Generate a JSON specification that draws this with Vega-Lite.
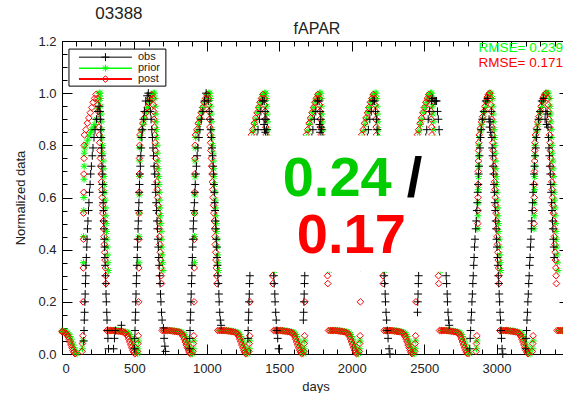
{
"$schema":"https://vega.github.io/schema/vega-lite/v6.json",
"width":507,"height":313,
"autosize":{"type":"none"},
"padding":{"left":62,"top":41,"right":-6,"bottom":39},
"background":"white",
"config":{"view":{"stroke":"#000","strokeWidth":1},"axis":{"labelFont":"Liberation Sans","titleFont":"Liberation Sans","labelFontSize":13,"titleFontSize":13,"titleFontWeight":"normal","labelColor":"#222","titleColor":"#222","domain":false,"tickColor":"#000","tickWidth":1,"grid":false}},
"datasets":{
"post":[
{"d":0,"v":0.086},{"d":4,"v":0.085},{"d":16,"v":0.083},{"d":26,"v":0.08},{"d":34,"v":0.075},{"d":41,"v":0.067},{"d":48,"v":0.057},{"d":55,"v":0.046},{"d":62,"v":0.035},{"d":69,"v":0.024},{"d":76,"v":0.014},{"d":83,"v":0.006},{"d":90,"v":0.001},
{"d":138,"v":0.01},{"d":141,"v":0.04},{"d":144,"v":0.07},{"d":146,"v":0.2},{"d":147,"v":0.33},{"d":148,"v":0.44},{"d":149,"v":0.54},{"d":150,"v":0.62},{"d":151,"v":0.69},{"d":152,"v":0.75},{"d":153,"v":0.8},
{"d":155,"v":0.84},{"d":165,"v":0.86},{"d":175,"v":0.885},{"d":185,"v":0.905},{"d":195,"v":0.925},{"d":205,"v":0.945},{"d":215,"v":0.965},{"d":225,"v":0.98},{"d":235,"v":0.995},
{"d":245,"v":0.98},{"d":247,"v":0.955},{"d":250,"v":0.93},{"d":252,"v":0.9},{"d":255,"v":0.87},{"d":257,"v":0.84},{"d":260,"v":0.81},{"d":262,"v":0.78},{"d":265,"v":0.75},{"d":267,"v":0.72},{"d":270,"v":0.69},{"d":272,"v":0.66},{"d":275,"v":0.63},{"d":277,"v":0.6},{"d":280,"v":0.57},{"d":282,"v":0.54},{"d":285,"v":0.51},{"d":287,"v":0.48},{"d":290,"v":0.45},{"d":292,"v":0.42},{"d":295,"v":0.39},{"d":297,"v":0.36},{"d":300,"v":0.33},{"d":302,"v":0.3},{"d":304,"v":0.27},
{"d":309,"v":0.09},{"d":321,"v":0.09},{"d":333,"v":0.09},{"d":345,"v":0.09},{"d":357,"v":0.09},{"d":369,"v":0.089},{"d":381,"v":0.088},{"d":393,"v":0.087},{"d":405,"v":0.086},{"d":417,"v":0.085},{"d":429,"v":0.083},{"d":439,"v":0.08},
{"d":447,"v":0.075},{"d":454,"v":0.067},{"d":461,"v":0.057},{"d":468,"v":0.046},{"d":475,"v":0.035},{"d":482,"v":0.024},{"d":489,"v":0.014},{"d":496,"v":0.006},{"d":503,"v":0.001},
{"d":521,"v":0.01},{"d":524,"v":0.04},{"d":527,"v":0.07},{"d":529,"v":0.2},{"d":530,"v":0.33},{"d":531,"v":0.44},{"d":532,"v":0.54},{"d":533,"v":0.62},{"d":534,"v":0.69},{"d":535,"v":0.75},{"d":536,"v":0.8},
{"d":538,"v":0.84},{"d":548,"v":0.86},{"d":558,"v":0.885},{"d":568,"v":0.905},{"d":578,"v":0.925},{"d":588,"v":0.945},{"d":598,"v":0.965},{"d":608,"v":0.98},{"d":618,"v":0.995},
{"d":628,"v":0.98},{"d":630,"v":0.955},{"d":633,"v":0.93},{"d":635,"v":0.9},{"d":638,"v":0.87},{"d":640,"v":0.84},{"d":643,"v":0.81},{"d":645,"v":0.78},{"d":648,"v":0.75},{"d":650,"v":0.72},{"d":653,"v":0.69},{"d":655,"v":0.66},{"d":658,"v":0.63},{"d":660,"v":0.6},{"d":663,"v":0.57},{"d":665,"v":0.54},{"d":668,"v":0.51},{"d":670,"v":0.48},{"d":673,"v":0.45},{"d":675,"v":0.42},{"d":678,"v":0.39},{"d":680,"v":0.36},{"d":683,"v":0.33},{"d":685,"v":0.3},{"d":687,"v":0.27},
{"d":692,"v":0.09},{"d":704,"v":0.09},{"d":716,"v":0.09},{"d":728,"v":0.09},{"d":740,"v":0.09},{"d":752,"v":0.089},{"d":764,"v":0.088},{"d":776,"v":0.087},{"d":788,"v":0.086},{"d":800,"v":0.085},{"d":812,"v":0.083},{"d":822,"v":0.08},
{"d":830,"v":0.075},{"d":837,"v":0.067},{"d":844,"v":0.057},{"d":851,"v":0.046},{"d":858,"v":0.035},{"d":865,"v":0.024},{"d":872,"v":0.014},{"d":879,"v":0.006},{"d":886,"v":0.001},
{"d":904,"v":0.01},{"d":907,"v":0.04},{"d":910,"v":0.07},{"d":912,"v":0.2},{"d":913,"v":0.33},{"d":914,"v":0.44},{"d":915,"v":0.54},{"d":916,"v":0.62},{"d":917,"v":0.69},{"d":918,"v":0.75},{"d":919,"v":0.8},
{"d":921,"v":0.84},{"d":931,"v":0.86},{"d":941,"v":0.885},{"d":951,"v":0.905},{"d":961,"v":0.925},{"d":971,"v":0.945},{"d":981,"v":0.965},{"d":991,"v":0.98},{"d":1001,"v":0.995},
{"d":1011,"v":0.98},{"d":1013,"v":0.955},{"d":1016,"v":0.93},{"d":1018,"v":0.9},{"d":1021,"v":0.87},{"d":1023,"v":0.84},{"d":1026,"v":0.81},{"d":1028,"v":0.78},{"d":1031,"v":0.75},{"d":1033,"v":0.72},{"d":1036,"v":0.69},{"d":1038,"v":0.66},{"d":1041,"v":0.63},{"d":1043,"v":0.6},{"d":1046,"v":0.57},{"d":1048,"v":0.54},{"d":1051,"v":0.51},{"d":1053,"v":0.48},{"d":1056,"v":0.45},{"d":1058,"v":0.42},{"d":1061,"v":0.39},{"d":1063,"v":0.36},{"d":1066,"v":0.33},{"d":1068,"v":0.3},{"d":1070,"v":0.27},
{"d":1075,"v":0.09},{"d":1087,"v":0.09},{"d":1099,"v":0.09},{"d":1111,"v":0.09},{"d":1123,"v":0.09},{"d":1135,"v":0.089},{"d":1147,"v":0.088},{"d":1159,"v":0.087},{"d":1171,"v":0.086},{"d":1183,"v":0.085},{"d":1195,"v":0.083},{"d":1205,"v":0.08},
{"d":1213,"v":0.075},{"d":1220,"v":0.067},{"d":1227,"v":0.057},{"d":1234,"v":0.046},{"d":1241,"v":0.035},{"d":1248,"v":0.024},{"d":1255,"v":0.014},{"d":1262,"v":0.006},{"d":1269,"v":0.001},
{"d":1290,"v":0.01},{"d":1293,"v":0.04},{"d":1296,"v":0.07},{"d":1298,"v":0.2},{"d":1299,"v":0.33},{"d":1300,"v":0.44},{"d":1301,"v":0.54},{"d":1302,"v":0.62},{"d":1303,"v":0.69},{"d":1304,"v":0.75},{"d":1305,"v":0.8},
{"d":1307,"v":0.84},{"d":1317,"v":0.86},{"d":1327,"v":0.885},{"d":1337,"v":0.905},{"d":1347,"v":0.925},{"d":1357,"v":0.945},{"d":1367,"v":0.965},{"d":1377,"v":0.98},{"d":1387,"v":0.995},
{"d":1397,"v":0.98},{"d":1399,"v":0.955},{"d":1402,"v":0.93},{"d":1404,"v":0.9},{"d":1407,"v":0.87},{"d":1409,"v":0.84},{"d":1412,"v":0.81},{"d":1414,"v":0.78},{"d":1417,"v":0.75},{"d":1419,"v":0.72},{"d":1422,"v":0.69},{"d":1424,"v":0.66},{"d":1427,"v":0.63},{"d":1429,"v":0.6},{"d":1432,"v":0.57},{"d":1434,"v":0.54},{"d":1437,"v":0.51},{"d":1439,"v":0.48},{"d":1442,"v":0.45},{"d":1444,"v":0.42},{"d":1447,"v":0.39},{"d":1449,"v":0.36},{"d":1452,"v":0.33},{"d":1454,"v":0.3},{"d":1456,"v":0.27},
{"d":1461,"v":0.09},{"d":1473,"v":0.09},{"d":1485,"v":0.09},{"d":1497,"v":0.09},{"d":1509,"v":0.09},{"d":1521,"v":0.089},{"d":1533,"v":0.088},{"d":1545,"v":0.087},{"d":1557,"v":0.086},{"d":1569,"v":0.085},{"d":1581,"v":0.083},{"d":1591,"v":0.08},
{"d":1599,"v":0.075},{"d":1606,"v":0.067},{"d":1613,"v":0.057},{"d":1620,"v":0.046},{"d":1627,"v":0.035},{"d":1634,"v":0.024},{"d":1641,"v":0.014},{"d":1648,"v":0.006},{"d":1655,"v":0.001},
{"d":1669,"v":0.01},{"d":1672,"v":0.04},{"d":1675,"v":0.07},{"d":1677,"v":0.2},{"d":1678,"v":0.33},{"d":1679,"v":0.44},{"d":1680,"v":0.54},{"d":1681,"v":0.62},{"d":1682,"v":0.69},{"d":1683,"v":0.75},{"d":1684,"v":0.8},
{"d":1686,"v":0.84},{"d":1696,"v":0.86},{"d":1706,"v":0.885},{"d":1716,"v":0.905},{"d":1726,"v":0.925},{"d":1736,"v":0.945},{"d":1746,"v":0.965},{"d":1756,"v":0.98},{"d":1766,"v":0.995},
{"d":1776,"v":0.98},{"d":1778,"v":0.955},{"d":1781,"v":0.93},{"d":1783,"v":0.9},{"d":1786,"v":0.87},{"d":1788,"v":0.84},{"d":1791,"v":0.81},{"d":1793,"v":0.78},{"d":1796,"v":0.75},{"d":1798,"v":0.72},{"d":1801,"v":0.69},{"d":1803,"v":0.66},{"d":1806,"v":0.63},{"d":1808,"v":0.6},{"d":1811,"v":0.57},{"d":1813,"v":0.54},{"d":1816,"v":0.51},{"d":1818,"v":0.48},{"d":1821,"v":0.45},{"d":1823,"v":0.42},{"d":1826,"v":0.39},{"d":1828,"v":0.36},{"d":1831,"v":0.33},{"d":1833,"v":0.3},{"d":1835,"v":0.27},
{"d":1840,"v":0.09},{"d":1852,"v":0.09},{"d":1864,"v":0.09},{"d":1876,"v":0.09},{"d":1888,"v":0.09},{"d":1900,"v":0.089},{"d":1912,"v":0.088},{"d":1924,"v":0.087},{"d":1936,"v":0.086},{"d":1948,"v":0.085},{"d":1960,"v":0.083},{"d":1970,"v":0.08},
{"d":1978,"v":0.075},{"d":1985,"v":0.067},{"d":1992,"v":0.057},{"d":1999,"v":0.046},{"d":2006,"v":0.035},{"d":2013,"v":0.024},{"d":2020,"v":0.014},{"d":2027,"v":0.006},{"d":2034,"v":0.001},
{"d":2052,"v":0.01},{"d":2055,"v":0.04},{"d":2058,"v":0.07},{"d":2060,"v":0.2},{"d":2061,"v":0.33},{"d":2062,"v":0.44},{"d":2063,"v":0.54},{"d":2064,"v":0.62},{"d":2065,"v":0.69},{"d":2066,"v":0.75},{"d":2067,"v":0.8},
{"d":2069,"v":0.84},{"d":2079,"v":0.86},{"d":2089,"v":0.885},{"d":2099,"v":0.905},{"d":2109,"v":0.925},{"d":2119,"v":0.945},{"d":2129,"v":0.965},{"d":2139,"v":0.98},{"d":2149,"v":0.995},
{"d":2159,"v":0.98},{"d":2161,"v":0.955},{"d":2164,"v":0.93},{"d":2166,"v":0.9},{"d":2169,"v":0.87},{"d":2171,"v":0.84},{"d":2174,"v":0.81},{"d":2176,"v":0.78},{"d":2179,"v":0.75},{"d":2181,"v":0.72},{"d":2184,"v":0.69},{"d":2186,"v":0.66},{"d":2189,"v":0.63},{"d":2191,"v":0.6},{"d":2194,"v":0.57},{"d":2196,"v":0.54},{"d":2199,"v":0.51},{"d":2201,"v":0.48},{"d":2204,"v":0.45},{"d":2206,"v":0.42},{"d":2209,"v":0.39},{"d":2211,"v":0.36},{"d":2214,"v":0.33},{"d":2216,"v":0.3},{"d":2218,"v":0.27},
{"d":2223,"v":0.09},{"d":2235,"v":0.09},{"d":2247,"v":0.09},{"d":2259,"v":0.09},{"d":2271,"v":0.09},{"d":2283,"v":0.089},{"d":2295,"v":0.088},{"d":2307,"v":0.087},{"d":2319,"v":0.086},{"d":2331,"v":0.085},{"d":2343,"v":0.083},{"d":2353,"v":0.08},
{"d":2361,"v":0.075},{"d":2368,"v":0.067},{"d":2375,"v":0.057},{"d":2382,"v":0.046},{"d":2389,"v":0.035},{"d":2396,"v":0.024},{"d":2403,"v":0.014},{"d":2410,"v":0.006},{"d":2417,"v":0.001},
{"d":2435,"v":0.01},{"d":2438,"v":0.04},{"d":2441,"v":0.07},{"d":2443,"v":0.2},{"d":2444,"v":0.33},{"d":2445,"v":0.44},{"d":2446,"v":0.54},{"d":2447,"v":0.62},{"d":2448,"v":0.69},{"d":2449,"v":0.75},{"d":2450,"v":0.8},
{"d":2452,"v":0.84},{"d":2462,"v":0.86},{"d":2472,"v":0.885},{"d":2482,"v":0.905},{"d":2492,"v":0.925},{"d":2502,"v":0.945},{"d":2512,"v":0.965},{"d":2522,"v":0.98},{"d":2532,"v":0.995},
{"d":2542,"v":0.98},{"d":2544,"v":0.955},{"d":2547,"v":0.93},{"d":2549,"v":0.9},{"d":2552,"v":0.87},{"d":2554,"v":0.84},{"d":2557,"v":0.81},{"d":2559,"v":0.78},{"d":2562,"v":0.75},{"d":2564,"v":0.72},{"d":2567,"v":0.69},{"d":2569,"v":0.66},{"d":2572,"v":0.63},{"d":2574,"v":0.6},{"d":2577,"v":0.57},{"d":2579,"v":0.54},{"d":2582,"v":0.51},{"d":2584,"v":0.48},{"d":2587,"v":0.45},{"d":2589,"v":0.42},{"d":2592,"v":0.39},{"d":2594,"v":0.36},{"d":2597,"v":0.33},{"d":2599,"v":0.3},{"d":2601,"v":0.27},
{"d":2606,"v":0.09},{"d":2618,"v":0.09},{"d":2630,"v":0.09},{"d":2642,"v":0.09},{"d":2654,"v":0.09},{"d":2666,"v":0.089},{"d":2678,"v":0.088},{"d":2690,"v":0.087},{"d":2702,"v":0.086},{"d":2714,"v":0.085},{"d":2726,"v":0.083},{"d":2736,"v":0.08},
{"d":2744,"v":0.075},{"d":2751,"v":0.067},{"d":2758,"v":0.057},{"d":2765,"v":0.046},{"d":2772,"v":0.035},{"d":2779,"v":0.024},{"d":2786,"v":0.014},{"d":2793,"v":0.006},{"d":2800,"v":0.001},
{"d":2858,"v":0.01},{"d":2861,"v":0.04},{"d":2864,"v":0.07},{"d":2870,"v":0.5},{"d":2871,"v":0.55},{"d":2872,"v":0.6},{"d":2873,"v":0.65},{"d":2874,"v":0.7},{"d":2875,"v":0.74},{"d":2876,"v":0.78},{"d":2877,"v":0.81},
{"d":2880,"v":0.84},{"d":2888,"v":0.865},{"d":2896,"v":0.89},{"d":2904,"v":0.91},{"d":2912,"v":0.93},{"d":2920,"v":0.95},{"d":2928,"v":0.97},{"d":2936,"v":0.985},{"d":2944,"v":0.995},{"d":2952,"v":1.0},
{"d":2959,"v":0.98},{"d":2961,"v":0.955},{"d":2964,"v":0.93},{"d":2966,"v":0.9},{"d":2969,"v":0.87},{"d":2971,"v":0.84},{"d":2974,"v":0.81},{"d":2976,"v":0.78},{"d":2979,"v":0.75},{"d":2981,"v":0.72},{"d":2984,"v":0.69},{"d":2986,"v":0.66},{"d":2989,"v":0.63},{"d":2991,"v":0.6},{"d":2994,"v":0.57},{"d":2996,"v":0.54},{"d":2999,"v":0.51},{"d":3001,"v":0.48},{"d":3004,"v":0.45},{"d":3006,"v":0.42},{"d":3009,"v":0.39},{"d":3011,"v":0.36},{"d":3014,"v":0.33},{"d":3016,"v":0.3},{"d":3018,"v":0.27},
{"d":3023,"v":0.09},{"d":3035,"v":0.09},{"d":3047,"v":0.09},{"d":3059,"v":0.09},{"d":3071,"v":0.09},{"d":3083,"v":0.089},{"d":3095,"v":0.088},{"d":3107,"v":0.087},{"d":3119,"v":0.086},{"d":3131,"v":0.085},{"d":3143,"v":0.083},{"d":3153,"v":0.08},
{"d":3161,"v":0.075},{"d":3168,"v":0.067},{"d":3175,"v":0.057},{"d":3182,"v":0.046},{"d":3189,"v":0.035},{"d":3196,"v":0.024},{"d":3203,"v":0.014},{"d":3210,"v":0.006},{"d":3217,"v":0.001},
{"d":3246,"v":0.01},{"d":3249,"v":0.04},{"d":3252,"v":0.07},{"d":3258,"v":0.5},{"d":3259,"v":0.55},{"d":3260,"v":0.6},{"d":3261,"v":0.65},{"d":3262,"v":0.7},{"d":3263,"v":0.74},{"d":3264,"v":0.78},{"d":3265,"v":0.81},
{"d":3268,"v":0.84},{"d":3276,"v":0.865},{"d":3284,"v":0.89},{"d":3292,"v":0.91},{"d":3300,"v":0.93},{"d":3308,"v":0.95},{"d":3316,"v":0.97},{"d":3324,"v":0.985},{"d":3332,"v":0.995},{"d":3342,"v":1.0},
{"d":3354,"v":0.98},{"d":3356,"v":0.955},{"d":3359,"v":0.93},{"d":3361,"v":0.9},{"d":3364,"v":0.87},{"d":3366,"v":0.84},{"d":3369,"v":0.81},{"d":3371,"v":0.78},{"d":3374,"v":0.75},{"d":3376,"v":0.72},{"d":3379,"v":0.69},{"d":3381,"v":0.66},{"d":3384,"v":0.63},{"d":3386,"v":0.6},{"d":3389,"v":0.57},{"d":3391,"v":0.54},{"d":3394,"v":0.51},{"d":3396,"v":0.48},{"d":3399,"v":0.45},{"d":3401,"v":0.42},{"d":3404,"v":0.39},{"d":3406,"v":0.36},{"d":3409,"v":0.33},{"d":3411,"v":0.3},{"d":3413,"v":0.27},
{"d":3418,"v":0.09},{"d":3430,"v":0.09},{"d":3442,"v":0.09},{"d":3454,"v":0.09},{"d":3466,"v":0.09},{"d":3478,"v":0.09},{"d":3490,"v":0.089}
],
"prior":[
{"d":0,"v":0.088},{"d":10,"v":0.087},{"d":20,"v":0.086},{"d":30,"v":0.084},{"d":40,"v":0.08},{"d":48,"v":0.075},{"d":55,"v":0.067},{"d":62,"v":0.057},{"d":69,"v":0.046},{"d":76,"v":0.035},{"d":83,"v":0.024},{"d":90,"v":0.014},{"d":97,"v":0.006},{"d":104,"v":0.001},
{"d":142,"v":0.02},{"d":145,"v":0.05},{"d":148,"v":0.35},{"d":149,"v":0.45},{"d":150,"v":0.55},{"d":151,"v":0.6},{"d":152,"v":0.67},{"d":153,"v":0.72},{"d":154,"v":0.77},
{"d":157,"v":0.79},{"d":167,"v":0.805},{"d":177,"v":0.82},{"d":187,"v":0.835},{"d":197,"v":0.85},{"d":207,"v":0.86},{"d":217,"v":0.87},{"d":227,"v":0.88},{"d":237,"v":0.9},{"d":245,"v":0.94},{"d":251,"v":0.97},{"d":257,"v":1.0},{"d":263,"v":1.0},
{"d":265,"v":0.98},{"d":267,"v":0.95},{"d":270,"v":0.92},{"d":272,"v":0.89},{"d":275,"v":0.86},{"d":277,"v":0.83},{"d":280,"v":0.8},{"d":282,"v":0.77},{"d":285,"v":0.74},{"d":287,"v":0.71},{"d":290,"v":0.68},{"d":292,"v":0.65},{"d":295,"v":0.62},{"d":297,"v":0.59},{"d":300,"v":0.56},{"d":302,"v":0.53},{"d":305,"v":0.5},{"d":307,"v":0.47},{"d":310,"v":0.44},{"d":312,"v":0.41},{"d":315,"v":0.38},{"d":317,"v":0.35},{"d":320,"v":0.32},
{"d":329,"v":0.09},{"d":341,"v":0.09},{"d":353,"v":0.09},{"d":365,"v":0.09},{"d":377,"v":0.09},{"d":389,"v":0.089},{"d":401,"v":0.088},{"d":413,"v":0.087},{"d":425,"v":0.086},{"d":437,"v":0.085},{"d":449,"v":0.083},{"d":459,"v":0.08},
{"d":467,"v":0.075},{"d":474,"v":0.067},{"d":481,"v":0.057},{"d":488,"v":0.046},{"d":495,"v":0.035},{"d":502,"v":0.024},{"d":509,"v":0.014},{"d":516,"v":0.006},{"d":523,"v":0.001},
{"d":525,"v":0.02},{"d":528,"v":0.05},{"d":531,"v":0.35},{"d":532,"v":0.45},{"d":533,"v":0.54},{"d":534,"v":0.61},{"d":535,"v":0.68},{"d":536,"v":0.74},{"d":537,"v":0.79},
{"d":540,"v":0.83},{"d":550,"v":0.855},{"d":560,"v":0.88},{"d":570,"v":0.9},{"d":580,"v":0.925},{"d":590,"v":0.945},{"d":600,"v":0.965},{"d":610,"v":0.98},{"d":620,"v":0.995},{"d":630,"v":1.0},{"d":638,"v":1.0},
{"d":642,"v":0.98},{"d":644,"v":0.95},{"d":647,"v":0.92},{"d":649,"v":0.89},{"d":652,"v":0.86},{"d":654,"v":0.83},{"d":657,"v":0.8},{"d":659,"v":0.77},{"d":662,"v":0.74},{"d":664,"v":0.71},{"d":667,"v":0.68},{"d":669,"v":0.65},{"d":672,"v":0.62},{"d":674,"v":0.59},{"d":677,"v":0.56},{"d":679,"v":0.53},{"d":682,"v":0.5},{"d":684,"v":0.47},{"d":687,"v":0.44},{"d":689,"v":0.41},{"d":692,"v":0.38},{"d":694,"v":0.35},{"d":697,"v":0.32},
{"d":706,"v":0.09},{"d":718,"v":0.09},{"d":730,"v":0.09},{"d":742,"v":0.09},{"d":754,"v":0.09},{"d":766,"v":0.089},{"d":778,"v":0.088},{"d":790,"v":0.087},{"d":802,"v":0.086},{"d":814,"v":0.085},{"d":826,"v":0.083},{"d":836,"v":0.08},
{"d":844,"v":0.075},{"d":851,"v":0.067},{"d":858,"v":0.057},{"d":865,"v":0.046},{"d":872,"v":0.035},{"d":879,"v":0.024},{"d":886,"v":0.014},{"d":893,"v":0.006},{"d":900,"v":0.001},
{"d":908,"v":0.02},{"d":911,"v":0.05},{"d":914,"v":0.35},{"d":915,"v":0.45},{"d":916,"v":0.54},{"d":917,"v":0.61},{"d":918,"v":0.68},{"d":919,"v":0.74},{"d":920,"v":0.79},
{"d":923,"v":0.83},{"d":933,"v":0.855},{"d":943,"v":0.88},{"d":953,"v":0.9},{"d":963,"v":0.925},{"d":973,"v":0.945},{"d":983,"v":0.965},{"d":993,"v":0.98},{"d":1003,"v":0.995},{"d":1013,"v":1.0},{"d":1021,"v":1.0},
{"d":1025,"v":0.98},{"d":1027,"v":0.95},{"d":1030,"v":0.92},{"d":1032,"v":0.89},{"d":1035,"v":0.86},{"d":1037,"v":0.83},{"d":1040,"v":0.8},{"d":1042,"v":0.77},{"d":1045,"v":0.74},{"d":1047,"v":0.71},{"d":1050,"v":0.68},{"d":1052,"v":0.65},{"d":1055,"v":0.62},{"d":1057,"v":0.59},{"d":1060,"v":0.56},{"d":1062,"v":0.53},{"d":1065,"v":0.5},{"d":1067,"v":0.47},{"d":1070,"v":0.44},{"d":1072,"v":0.41},{"d":1075,"v":0.38},{"d":1077,"v":0.35},{"d":1080,"v":0.32},
{"d":1089,"v":0.09},{"d":1101,"v":0.09},{"d":1113,"v":0.09},{"d":1125,"v":0.09},{"d":1137,"v":0.09},{"d":1149,"v":0.089},{"d":1161,"v":0.088},{"d":1173,"v":0.087},{"d":1185,"v":0.086},{"d":1197,"v":0.085},{"d":1209,"v":0.083},{"d":1219,"v":0.08},
{"d":1227,"v":0.075},{"d":1234,"v":0.067},{"d":1241,"v":0.057},{"d":1248,"v":0.046},{"d":1255,"v":0.035},{"d":1262,"v":0.024},{"d":1269,"v":0.014},{"d":1276,"v":0.006},{"d":1283,"v":0.001},
{"d":1294,"v":0.02},{"d":1297,"v":0.05},{"d":1300,"v":0.35},{"d":1301,"v":0.45},{"d":1302,"v":0.54},{"d":1303,"v":0.61},{"d":1304,"v":0.68},{"d":1305,"v":0.74},{"d":1306,"v":0.79},
{"d":1309,"v":0.83},{"d":1319,"v":0.855},{"d":1329,"v":0.88},{"d":1339,"v":0.9},{"d":1349,"v":0.925},{"d":1359,"v":0.945},{"d":1369,"v":0.965},{"d":1379,"v":0.98},{"d":1389,"v":0.995},{"d":1399,"v":1.0},{"d":1407,"v":1.0},
{"d":1411,"v":0.98},{"d":1413,"v":0.95},{"d":1416,"v":0.92},{"d":1418,"v":0.89},{"d":1421,"v":0.86},{"d":1423,"v":0.83},{"d":1426,"v":0.8},{"d":1428,"v":0.77},{"d":1431,"v":0.74},{"d":1433,"v":0.71},{"d":1436,"v":0.68},{"d":1438,"v":0.65},{"d":1441,"v":0.62},{"d":1443,"v":0.59},{"d":1446,"v":0.56},{"d":1448,"v":0.53},{"d":1451,"v":0.5},{"d":1453,"v":0.47},{"d":1456,"v":0.44},{"d":1458,"v":0.41},{"d":1461,"v":0.38},{"d":1463,"v":0.35},{"d":1466,"v":0.32},
{"d":1475,"v":0.09},{"d":1487,"v":0.09},{"d":1499,"v":0.09},{"d":1511,"v":0.09},{"d":1523,"v":0.09},{"d":1535,"v":0.089},{"d":1547,"v":0.088},{"d":1559,"v":0.087},{"d":1571,"v":0.086},{"d":1583,"v":0.085},{"d":1595,"v":0.083},{"d":1605,"v":0.08},
{"d":1613,"v":0.075},{"d":1620,"v":0.067},{"d":1627,"v":0.057},{"d":1634,"v":0.046},{"d":1641,"v":0.035},{"d":1648,"v":0.024},{"d":1655,"v":0.014},{"d":1662,"v":0.006},{"d":1669,"v":0.001},
{"d":1673,"v":0.02},{"d":1676,"v":0.05},{"d":1679,"v":0.35},{"d":1680,"v":0.45},{"d":1681,"v":0.54},{"d":1682,"v":0.61},{"d":1683,"v":0.68},{"d":1684,"v":0.74},{"d":1685,"v":0.79},
{"d":1688,"v":0.83},{"d":1698,"v":0.855},{"d":1708,"v":0.88},{"d":1718,"v":0.9},{"d":1728,"v":0.925},{"d":1738,"v":0.945},{"d":1748,"v":0.965},{"d":1758,"v":0.98},{"d":1768,"v":0.995},{"d":1778,"v":1.0},{"d":1786,"v":1.0},
{"d":1790,"v":0.98},{"d":1792,"v":0.95},{"d":1795,"v":0.92},{"d":1797,"v":0.89},{"d":1800,"v":0.86},{"d":1802,"v":0.83},{"d":1805,"v":0.8},{"d":1807,"v":0.77},{"d":1810,"v":0.74},{"d":1812,"v":0.71},{"d":1815,"v":0.68},{"d":1817,"v":0.65},{"d":1820,"v":0.62},{"d":1822,"v":0.59},{"d":1825,"v":0.56},{"d":1827,"v":0.53},{"d":1830,"v":0.5},{"d":1832,"v":0.47},{"d":1835,"v":0.44},{"d":1837,"v":0.41},{"d":1840,"v":0.38},{"d":1842,"v":0.35},{"d":1845,"v":0.32},
{"d":1854,"v":0.09},{"d":1866,"v":0.09},{"d":1878,"v":0.09},{"d":1890,"v":0.09},{"d":1902,"v":0.09},{"d":1914,"v":0.089},{"d":1926,"v":0.088},{"d":1938,"v":0.087},{"d":1950,"v":0.086},{"d":1962,"v":0.085},{"d":1974,"v":0.083},{"d":1984,"v":0.08},
{"d":1992,"v":0.075},{"d":1999,"v":0.067},{"d":2006,"v":0.057},{"d":2013,"v":0.046},{"d":2020,"v":0.035},{"d":2027,"v":0.024},{"d":2034,"v":0.014},{"d":2041,"v":0.006},{"d":2048,"v":0.001},
{"d":2056,"v":0.02},{"d":2059,"v":0.05},{"d":2062,"v":0.35},{"d":2063,"v":0.45},{"d":2064,"v":0.54},{"d":2065,"v":0.61},{"d":2066,"v":0.68},{"d":2067,"v":0.74},{"d":2068,"v":0.79},
{"d":2071,"v":0.83},{"d":2081,"v":0.855},{"d":2091,"v":0.88},{"d":2101,"v":0.9},{"d":2111,"v":0.925},{"d":2121,"v":0.945},{"d":2131,"v":0.965},{"d":2141,"v":0.98},{"d":2151,"v":0.995},{"d":2161,"v":1.0},{"d":2169,"v":1.0},
{"d":2173,"v":0.98},{"d":2175,"v":0.95},{"d":2178,"v":0.92},{"d":2180,"v":0.89},{"d":2183,"v":0.86},{"d":2185,"v":0.83},{"d":2188,"v":0.8},{"d":2190,"v":0.77},{"d":2193,"v":0.74},{"d":2195,"v":0.71},{"d":2198,"v":0.68},{"d":2200,"v":0.65},{"d":2203,"v":0.62},{"d":2205,"v":0.59},{"d":2208,"v":0.56},{"d":2210,"v":0.53},{"d":2213,"v":0.5},{"d":2215,"v":0.47},{"d":2218,"v":0.44},{"d":2220,"v":0.41},{"d":2223,"v":0.38},{"d":2225,"v":0.35},{"d":2228,"v":0.32},
{"d":2237,"v":0.09},{"d":2249,"v":0.09},{"d":2261,"v":0.09},{"d":2273,"v":0.09},{"d":2285,"v":0.09},{"d":2297,"v":0.089},{"d":2309,"v":0.088},{"d":2321,"v":0.087},{"d":2333,"v":0.086},{"d":2345,"v":0.085},{"d":2357,"v":0.083},{"d":2367,"v":0.08},
{"d":2375,"v":0.075},{"d":2382,"v":0.067},{"d":2389,"v":0.057},{"d":2396,"v":0.046},{"d":2403,"v":0.035},{"d":2410,"v":0.024},{"d":2417,"v":0.014},{"d":2424,"v":0.006},{"d":2431,"v":0.001},
{"d":2439,"v":0.02},{"d":2442,"v":0.05},{"d":2445,"v":0.35},{"d":2446,"v":0.45},{"d":2447,"v":0.54},{"d":2448,"v":0.61},{"d":2449,"v":0.68},{"d":2450,"v":0.74},{"d":2451,"v":0.79},
{"d":2454,"v":0.83},{"d":2464,"v":0.855},{"d":2474,"v":0.88},{"d":2484,"v":0.9},{"d":2494,"v":0.925},{"d":2504,"v":0.945},{"d":2514,"v":0.965},{"d":2524,"v":0.98},{"d":2534,"v":0.995},{"d":2544,"v":1.0},{"d":2552,"v":1.0},
{"d":2556,"v":0.98},{"d":2558,"v":0.95},{"d":2561,"v":0.92},{"d":2563,"v":0.89},{"d":2566,"v":0.86},{"d":2568,"v":0.83},{"d":2571,"v":0.8},{"d":2573,"v":0.77},{"d":2576,"v":0.74},{"d":2578,"v":0.71},{"d":2581,"v":0.68},{"d":2583,"v":0.65},{"d":2586,"v":0.62},{"d":2588,"v":0.59},{"d":2591,"v":0.56},{"d":2593,"v":0.53},{"d":2596,"v":0.5},{"d":2598,"v":0.47},{"d":2601,"v":0.44},{"d":2603,"v":0.41},{"d":2606,"v":0.38},{"d":2608,"v":0.35},{"d":2611,"v":0.32},
{"d":2620,"v":0.09},{"d":2632,"v":0.09},{"d":2644,"v":0.09},{"d":2656,"v":0.09},{"d":2668,"v":0.09},{"d":2680,"v":0.089},{"d":2692,"v":0.088},{"d":2704,"v":0.087},{"d":2716,"v":0.086},{"d":2728,"v":0.085},{"d":2740,"v":0.083},{"d":2750,"v":0.08},
{"d":2758,"v":0.075},{"d":2765,"v":0.067},{"d":2772,"v":0.057},{"d":2779,"v":0.046},{"d":2786,"v":0.035},{"d":2793,"v":0.024},{"d":2800,"v":0.014},{"d":2807,"v":0.006},{"d":2814,"v":0.001},
{"d":2862,"v":0.02},{"d":2865,"v":0.05},{"d":2871,"v":0.48},{"d":2872,"v":0.53},{"d":2873,"v":0.58},{"d":2874,"v":0.63},{"d":2875,"v":0.68},{"d":2876,"v":0.72},{"d":2877,"v":0.76},{"d":2878,"v":0.8},
{"d":2882,"v":0.83},{"d":2890,"v":0.855},{"d":2898,"v":0.88},{"d":2906,"v":0.9},{"d":2914,"v":0.925},{"d":2922,"v":0.945},{"d":2930,"v":0.965},{"d":2938,"v":0.98},{"d":2946,"v":0.995},{"d":2954,"v":1.0},{"d":2962,"v":1.0},
{"d":2973,"v":0.98},{"d":2975,"v":0.95},{"d":2978,"v":0.92},{"d":2980,"v":0.89},{"d":2983,"v":0.86},{"d":2985,"v":0.83},{"d":2988,"v":0.8},{"d":2990,"v":0.77},{"d":2993,"v":0.74},{"d":2995,"v":0.71},{"d":2998,"v":0.68},{"d":3000,"v":0.65},{"d":3003,"v":0.62},{"d":3005,"v":0.59},{"d":3008,"v":0.56},{"d":3010,"v":0.53},{"d":3013,"v":0.5},{"d":3015,"v":0.47},{"d":3018,"v":0.44},{"d":3020,"v":0.41},{"d":3023,"v":0.38},{"d":3025,"v":0.35},{"d":3028,"v":0.32},
{"d":3037,"v":0.09},{"d":3049,"v":0.09},{"d":3061,"v":0.09},{"d":3073,"v":0.09},{"d":3085,"v":0.09},{"d":3097,"v":0.089},{"d":3109,"v":0.088},{"d":3121,"v":0.087},{"d":3133,"v":0.086},{"d":3145,"v":0.085},{"d":3157,"v":0.083},{"d":3167,"v":0.08},
{"d":3175,"v":0.075},{"d":3182,"v":0.067},{"d":3189,"v":0.057},{"d":3196,"v":0.046},{"d":3203,"v":0.035},{"d":3210,"v":0.024},{"d":3217,"v":0.014},{"d":3224,"v":0.006},{"d":3231,"v":0.001},
{"d":3250,"v":0.02},{"d":3253,"v":0.05},{"d":3259,"v":0.48},{"d":3260,"v":0.53},{"d":3261,"v":0.58},{"d":3262,"v":0.63},{"d":3263,"v":0.68},{"d":3264,"v":0.72},{"d":3265,"v":0.76},{"d":3266,"v":0.8},
{"d":3270,"v":0.83},{"d":3278,"v":0.855},{"d":3286,"v":0.88},{"d":3294,"v":0.9},{"d":3302,"v":0.925},{"d":3310,"v":0.945},{"d":3318,"v":0.965},{"d":3326,"v":0.98},{"d":3334,"v":0.995},{"d":3342,"v":1.0},{"d":3350,"v":1.0},{"d":3358,"v":1.0},
{"d":3368,"v":0.98},{"d":3370,"v":0.95},{"d":3373,"v":0.92},{"d":3375,"v":0.89},{"d":3378,"v":0.86},{"d":3380,"v":0.83},{"d":3383,"v":0.8},{"d":3385,"v":0.77},{"d":3388,"v":0.74},{"d":3390,"v":0.71},{"d":3393,"v":0.68},{"d":3395,"v":0.65},{"d":3398,"v":0.62},{"d":3400,"v":0.59},{"d":3403,"v":0.56},{"d":3405,"v":0.53},{"d":3408,"v":0.5},{"d":3410,"v":0.47},{"d":3413,"v":0.44},{"d":3415,"v":0.41},{"d":3418,"v":0.38},{"d":3420,"v":0.35},{"d":3423,"v":0.32},
{"d":3432,"v":0.09},{"d":3444,"v":0.09},{"d":3456,"v":0.09},{"d":3468,"v":0.09},{"d":3480,"v":0.09},{"d":3492,"v":0.09}
],
"obs":[
{"d":150,"v":0.05},{"d":152,"v":0.09},{"d":154,"v":0.13},{"d":156,"v":0.16},{"d":158,"v":0.2},{"d":160,"v":0.23},{"d":162,"v":0.27},{"d":164,"v":0.3},{"d":166,"v":0.34},{"d":168,"v":0.37},{"d":171,"v":0.41},{"d":173,"v":0.44},{"d":176,"v":0.48},{"d":179,"v":0.51},{"d":183,"v":0.55},{"d":186,"v":0.58},{"d":190,"v":0.62},{"d":194,"v":0.65},{"d":198,"v":0.69},{"d":203,"v":0.72},{"d":209,"v":0.76},{"d":214,"v":0.79},{"d":221,"v":0.83},{"d":228,"v":0.86},{"d":238,"v":0.9},{"d":248,"v":0.93},{"d":256,"v":0.95},
{"d":262,"v":0.93},{"d":265,"v":0.9},{"d":268,"v":0.86},{"d":270,"v":0.83},{"d":272,"v":0.79},{"d":274,"v":0.76},{"d":276,"v":0.72},{"d":278,"v":0.69},{"d":280,"v":0.65},{"d":282,"v":0.62},{"d":284,"v":0.58},{"d":286,"v":0.55},{"d":288,"v":0.51},{"d":290,"v":0.48},{"d":292,"v":0.44},{"d":294,"v":0.41},{"d":296,"v":0.37},{"d":298,"v":0.34},{"d":300,"v":0.3},{"d":302,"v":0.27},{"d":304,"v":0.23},{"d":306,"v":0.2},{"d":309,"v":0.16},{"d":311,"v":0.13},{"d":314,"v":0.09},{"d":317,"v":0.06},{"d":321,"v":0.02},
{"d":356,"v":0.02},{"d":362,"v":0.06},{"d":368,"v":0.09},{"d":410,"v":0.11},
{"d":500,"v":0.02},{"d":502,"v":0.06},{"d":504,"v":0.09},{"d":506,"v":0.13},{"d":508,"v":0.16},{"d":509,"v":0.2},{"d":511,"v":0.23},{"d":513,"v":0.27},{"d":515,"v":0.3},{"d":517,"v":0.34},{"d":519,"v":0.37},{"d":521,"v":0.41},{"d":523,"v":0.44},{"d":525,"v":0.48},{"d":527,"v":0.51},{"d":529,"v":0.55},{"d":531,"v":0.58},{"d":533,"v":0.62},{"d":535,"v":0.65},{"d":538,"v":0.69},{"d":541,"v":0.72},{"d":544,"v":0.76},{"d":547,"v":0.79},{"d":551,"v":0.83},{"d":555,"v":0.86},{"d":562,"v":0.9},{"d":569,"v":0.93},{"d":578,"v":0.97},{"d":588,"v":0.99},{"d":596,"v":1.0},
{"d":604,"v":0.97},{"d":610,"v":0.93},{"d":615,"v":0.9},{"d":620,"v":0.86},{"d":624,"v":0.83},{"d":628,"v":0.79},{"d":632,"v":0.76},{"d":636,"v":0.72},{"d":640,"v":0.69},{"d":644,"v":0.65},{"d":647,"v":0.62},{"d":650,"v":0.58},{"d":653,"v":0.55},{"d":656,"v":0.51},{"d":659,"v":0.48},{"d":662,"v":0.44},{"d":665,"v":0.41},{"d":668,"v":0.37},{"d":671,"v":0.34},{"d":674,"v":0.3},{"d":677,"v":0.27},{"d":680,"v":0.23},{"d":683,"v":0.2},{"d":687,"v":0.16},{"d":691,"v":0.13},{"d":700,"v":0.1},{"d":705,"v":0.06},{"d":710,"v":0.03},{"d":715,"v":0.01},
{"d":880,"v":0.02},{"d":882,"v":0.06},{"d":884,"v":0.09},{"d":886,"v":0.13},{"d":888,"v":0.16},{"d":890,"v":0.2},{"d":892,"v":0.23},{"d":894,"v":0.27},{"d":896,"v":0.3},{"d":898,"v":0.34},{"d":900,"v":0.37},{"d":902,"v":0.41},{"d":904,"v":0.44},{"d":906,"v":0.48},{"d":908,"v":0.51},{"d":911,"v":0.55},{"d":914,"v":0.58},{"d":917,"v":0.62},{"d":920,"v":0.65},{"d":924,"v":0.69},{"d":928,"v":0.72},{"d":933,"v":0.76},{"d":938,"v":0.79},{"d":945,"v":0.83},{"d":952,"v":0.86},{"d":962,"v":0.9},{"d":972,"v":0.93},{"d":984,"v":0.97},{"d":995,"v":1.0},
{"d":1010,"v":0.97},{"d":1016,"v":0.93},{"d":1022,"v":0.9},{"d":1027,"v":0.86},{"d":1031,"v":0.83},{"d":1035,"v":0.79},{"d":1039,"v":0.76},{"d":1043,"v":0.72},{"d":1046,"v":0.69},{"d":1049,"v":0.65},{"d":1052,"v":0.62},{"d":1054,"v":0.58},{"d":1057,"v":0.55},{"d":1060,"v":0.51},{"d":1062,"v":0.48},{"d":1065,"v":0.44},{"d":1068,"v":0.41},{"d":1070,"v":0.37},{"d":1073,"v":0.34},{"d":1076,"v":0.3},{"d":1079,"v":0.27},{"d":1083,"v":0.23},{"d":1085,"v":0.2},{"d":1089,"v":0.16},{"d":1093,"v":0.13},{"d":1098,"v":0.11},
{"d":1283,"v":0.06},{"d":1285,"v":0.09},{"d":1287,"v":0.13},{"d":1289,"v":0.16},{"d":1291,"v":0.2},{"d":1293,"v":0.23},{"d":1295,"v":0.27},{"d":1297,"v":0.3},{"d":1299,"v":0.34},{"d":1301,"v":0.37},{"d":1303,"v":0.41},{"d":1305,"v":0.44},{"d":1307,"v":0.48},{"d":1309,"v":0.51},{"d":1312,"v":0.55},{"d":1315,"v":0.58},{"d":1318,"v":0.62},{"d":1321,"v":0.65},{"d":1325,"v":0.69},{"d":1329,"v":0.72},{"d":1334,"v":0.76},{"d":1339,"v":0.79},{"d":1346,"v":0.83},{"d":1353,"v":0.86},{"d":1363,"v":0.9},{"d":1373,"v":0.93},{"d":1385,"v":0.97},
{"d":1395,"v":0.88},{"d":1398,"v":0.86},{"d":1401,"v":0.9},{"d":1404,"v":0.85},
{"d":1396,"v":0.97},{"d":1402,"v":0.93},{"d":1408,"v":0.9},{"d":1413,"v":0.86},{"d":1417,"v":0.83},{"d":1421,"v":0.79},{"d":1425,"v":0.76},{"d":1429,"v":0.72},{"d":1432,"v":0.69},{"d":1435,"v":0.65},{"d":1438,"v":0.62},{"d":1440,"v":0.58},{"d":1443,"v":0.55},{"d":1446,"v":0.51},{"d":1448,"v":0.48},{"d":1451,"v":0.44},{"d":1454,"v":0.41},{"d":1456,"v":0.37},{"d":1459,"v":0.34},{"d":1462,"v":0.3},{"d":1465,"v":0.27},{"d":1469,"v":0.23},{"d":1471,"v":0.2},{"d":1475,"v":0.16},{"d":1479,"v":0.13},{"d":1483,"v":0.09},{"d":1489,"v":0.06},{"d":1496,"v":0.02},
{"d":1666,"v":0.13},{"d":1668,"v":0.16},{"d":1670,"v":0.2},{"d":1672,"v":0.23},{"d":1674,"v":0.27},{"d":1676,"v":0.3},{"d":1678,"v":0.34},{"d":1680,"v":0.37},{"d":1682,"v":0.41},{"d":1684,"v":0.44},{"d":1686,"v":0.48},{"d":1688,"v":0.51},{"d":1691,"v":0.55},{"d":1694,"v":0.58},{"d":1697,"v":0.62},{"d":1700,"v":0.65},{"d":1704,"v":0.69},{"d":1708,"v":0.72},{"d":1713,"v":0.76},{"d":1718,"v":0.79},{"d":1725,"v":0.83},{"d":1732,"v":0.86},{"d":1742,"v":0.9},{"d":1752,"v":0.93},{"d":1764,"v":0.97},
{"d":1778,"v":0.88},{"d":1782,"v":0.85},{"d":1787,"v":0.87},
{"d":1775,"v":0.97},{"d":1781,"v":0.93},{"d":1786,"v":0.9},{"d":1792,"v":0.86},{"d":1796,"v":0.83},{"d":1800,"v":0.79},{"d":1804,"v":0.76},{"d":1808,"v":0.72},{"d":1811,"v":0.69},{"d":1814,"v":0.65},{"d":1817,"v":0.62},{"d":1819,"v":0.58},{"d":1822,"v":0.55},{"d":1825,"v":0.51},{"d":1827,"v":0.48},{"d":1830,"v":0.44},{"d":1833,"v":0.41},{"d":1835,"v":0.37},{"d":1838,"v":0.34},
{"d":2061,"v":0.34},{"d":2063,"v":0.37},{"d":2065,"v":0.41},{"d":2067,"v":0.44},{"d":2069,"v":0.48},{"d":2071,"v":0.51},{"d":2074,"v":0.55},{"d":2077,"v":0.58},{"d":2080,"v":0.62},{"d":2083,"v":0.65},{"d":2087,"v":0.69},{"d":2091,"v":0.72},{"d":2096,"v":0.76},{"d":2101,"v":0.79},{"d":2108,"v":0.83},{"d":2115,"v":0.86},{"d":2125,"v":0.9},{"d":2135,"v":0.93},{"d":2147,"v":0.97},
{"d":2158,"v":0.97},{"d":2164,"v":0.93},{"d":2170,"v":0.9},{"d":2175,"v":0.86},{"d":2179,"v":0.83},{"d":2183,"v":0.79},{"d":2187,"v":0.76},{"d":2191,"v":0.72},{"d":2194,"v":0.69},{"d":2197,"v":0.65},{"d":2200,"v":0.62},{"d":2202,"v":0.58},{"d":2205,"v":0.55},{"d":2208,"v":0.51},{"d":2210,"v":0.48},{"d":2213,"v":0.44},{"d":2216,"v":0.41},{"d":2218,"v":0.37},{"d":2221,"v":0.34},{"d":2224,"v":0.3},{"d":2227,"v":0.27},{"d":2231,"v":0.23},{"d":2233,"v":0.2},{"d":2237,"v":0.16},{"d":2241,"v":0.13},{"d":2245,"v":0.09},{"d":2251,"v":0.06},{"d":2258,"v":0.02},{"d":2264,"v":0.0},
{"d":2454,"v":0.16},{"d":2456,"v":0.2},{"d":2458,"v":0.23},{"d":2460,"v":0.27},{"d":2462,"v":0.3},{"d":2464,"v":0.34},{"d":2466,"v":0.37},{"d":2468,"v":0.41},{"d":2470,"v":0.44},{"d":2472,"v":0.48},{"d":2474,"v":0.51},{"d":2477,"v":0.55},{"d":2480,"v":0.58},{"d":2483,"v":0.62},{"d":2486,"v":0.65},{"d":2490,"v":0.69},{"d":2494,"v":0.72},{"d":2499,"v":0.76},{"d":2504,"v":0.79},{"d":2511,"v":0.83},{"d":2518,"v":0.86},{"d":2528,"v":0.9},{"d":2538,"v":0.93},{"d":2550,"v":0.97},
{"d":2560,"v":0.98},{"d":2570,"v":0.97},{"d":2580,"v":0.97},
{"d":2586,"v":0.97},{"d":2592,"v":0.93},{"d":2598,"v":0.9},{"d":2603,"v":0.86},{"d":2607,"v":0.83},{"d":2611,"v":0.79},{"d":2615,"v":0.76},{"d":2619,"v":0.72},{"d":2622,"v":0.69},{"d":2625,"v":0.65},{"d":2628,"v":0.62},{"d":2630,"v":0.58},{"d":2633,"v":0.55},{"d":2636,"v":0.51},{"d":2638,"v":0.48},{"d":2641,"v":0.44},{"d":2644,"v":0.41},{"d":2646,"v":0.37},{"d":2649,"v":0.34},{"d":2652,"v":0.3},{"d":2655,"v":0.27},{"d":2659,"v":0.23},{"d":2661,"v":0.2},{"d":2665,"v":0.16},{"d":2669,"v":0.13},{"d":2673,"v":0.11},
{"d":2815,"v":0.02},{"d":2818,"v":0.06},{"d":2821,"v":0.09},{"d":2824,"v":0.13},{"d":2827,"v":0.16},{"d":2830,"v":0.2},{"d":2833,"v":0.23},{"d":2836,"v":0.27},{"d":2839,"v":0.3},{"d":2842,"v":0.34},{"d":2845,"v":0.37},{"d":2848,"v":0.41},{"d":2851,"v":0.44},{"d":2856,"v":0.48},{"d":2860,"v":0.51},{"d":2864,"v":0.55},{"d":2867,"v":0.58},{"d":2870,"v":0.62},{"d":2873,"v":0.65},{"d":2876,"v":0.69},{"d":2879,"v":0.72},{"d":2882,"v":0.76},{"d":2885,"v":0.79},{"d":2889,"v":0.83},{"d":2894,"v":0.86},{"d":2902,"v":0.9},{"d":2912,"v":0.93},{"d":2926,"v":0.97},{"d":2938,"v":0.98},
{"d":2948,"v":0.9},{"d":2952,"v":0.87},{"d":2956,"v":0.89},{"d":2960,"v":0.85},{"d":2964,"v":0.93},
{"d":2967,"v":0.83},{"d":2970,"v":0.79},{"d":2973,"v":0.76},{"d":2976,"v":0.72},{"d":2979,"v":0.69},{"d":2982,"v":0.65},{"d":2985,"v":0.62},{"d":2988,"v":0.58},{"d":2991,"v":0.55},{"d":2994,"v":0.51},{"d":2997,"v":0.48},{"d":3000,"v":0.44},{"d":3003,"v":0.41},{"d":3006,"v":0.37},{"d":3009,"v":0.34},{"d":3012,"v":0.3},{"d":3015,"v":0.27},{"d":3018,"v":0.23},{"d":3021,"v":0.2},{"d":3024,"v":0.16},{"d":3027,"v":0.13},{"d":3030,"v":0.09},{"d":3034,"v":0.06},{"d":3038,"v":0.02},{"d":3043,"v":0.0},
{"d":3201,"v":0.02},{"d":3204,"v":0.06},{"d":3207,"v":0.09},{"d":3210,"v":0.13},{"d":3213,"v":0.16},{"d":3216,"v":0.2},{"d":3219,"v":0.23},{"d":3222,"v":0.27},{"d":3225,"v":0.3},{"d":3228,"v":0.34},{"d":3231,"v":0.37},{"d":3234,"v":0.41},{"d":3237,"v":0.44},{"d":3240,"v":0.48},{"d":3243,"v":0.51},{"d":3246,"v":0.55},{"d":3249,"v":0.58},{"d":3252,"v":0.62},{"d":3255,"v":0.65},{"d":3258,"v":0.69},{"d":3262,"v":0.72},{"d":3266,"v":0.76},{"d":3270,"v":0.79},{"d":3275,"v":0.83},{"d":3281,"v":0.86},{"d":3290,"v":0.9},{"d":3300,"v":0.93},{"d":3312,"v":0.97},{"d":3324,"v":0.98},
{"d":3335,"v":0.9},{"d":3340,"v":0.93},{"d":3345,"v":0.88},{"d":3350,"v":0.92},{"d":3355,"v":0.87},
{"d":3359,"v":0.83},{"d":3362,"v":0.79},{"d":3365,"v":0.76},{"d":3368,"v":0.72},{"d":3371,"v":0.69},{"d":3374,"v":0.65},{"d":3377,"v":0.62},{"d":3380,"v":0.58},{"d":3383,"v":0.55},{"d":3386,"v":0.51},{"d":3389,"v":0.48},{"d":3392,"v":0.44},{"d":3395,"v":0.41},{"d":3398,"v":0.37}
]
},
"resolve":{"axis":{"x":"independent","y":"independent"}},
"layer":[
{"data":{"name":"prior"},
 "mark":{"type":"point","shape":"M-1,0H1M0,-1V1M-0.7,-0.7L0.7,0.7M-0.7,0.7L0.7,-0.7","filled":false,"size":50,"strokeWidth":1,"color":"#00ff00","opacity":1},
 "encoding":{
  "x":{"field":"d","type":"quantitative","scale":{"domain":[0,3500],"nice":false,"zero":false},"axis":{"orient":"bottom","values":[0,500,1000,1500,2000,2500,3000],"format":"d","ticks":false,"labelPadding":8,"title":"days","titlePadding":5}},
  "y":{"field":"v","type":"quantitative","scale":{"domain":[0,1.2],"nice":false,"zero":false},"axis":{"orient":"left","values":[0,0.2,0.4,0.6,0.8,1.0,1.2],"format":".1f","ticks":false,"labelPadding":6,"title":"Normalized data","titlePadding":10}}}},
{"data":{"name":"post"},"transform":[{"filter":"datum.d < 1750"}],
 "mark":{"type":"point","shape":"diamond","filled":false,"size":44,"strokeWidth":1,"color":"#ff0000","opacity":1},
 "encoding":{
  "x":{"field":"d","type":"quantitative","scale":{"domain":[0,3500],"nice":false,"zero":false},"axis":{"orient":"bottom","values":[0,500,1000,1500,2000,2500,3000,3500],"labels":false,"tickSize":10,"offset":-10,"title":null}},
  "y":{"field":"v","type":"quantitative","scale":{"domain":[0,1.2],"nice":false,"zero":false},"axis":{"orient":"left","values":[0,0.2,0.4,0.6,0.8,1.0,1.2],"labels":false,"tickSize":10,"offset":-10,"title":null}}}},
{"data":{"name":"post"},"transform":[{"filter":"datum.d >= 1750"}],
 "mark":{"type":"point","shape":"diamond","filled":false,"size":44,"strokeWidth":1,"color":"#ff0000","opacity":1},
 "encoding":{
  "x":{"field":"d","type":"quantitative","scale":{"domain":[0,3500],"nice":false,"zero":false},"axis":{"orient":"bottom","values":[0,100,200,300,400,500,600,700,800,900,1000,1100,1200,1300,1400,1500,1600,1700,1800,1900,2000,2100,2200,2300,2400,2500,2600,2700,2800,2900,3000,3100,3200,3300,3400,3500],"labels":false,"tickSize":5,"offset":-5,"title":null}},
  "y":{"field":"v","type":"quantitative","scale":{"domain":[0,1.2],"nice":false,"zero":false},"axis":{"orient":"left","values":[0,0.05,0.1,0.15,0.2,0.25,0.3,0.35,0.4,0.45,0.5,0.55,0.6,0.65,0.7,0.75,0.8,0.85,0.9,0.95,1.0,1.05,1.1,1.15,1.2],"labels":false,"tickSize":5,"offset":-5,"title":null}}}},
{"data":{"name":"obs"},"transform":[{"filter":"datum.d < 1750"}],
 "mark":{"type":"point","shape":"M-1,0H1M0,-1V1","filled":false,"size":64,"strokeWidth":1,"color":"#000000","opacity":1},
 "encoding":{
  "x":{"field":"d","type":"quantitative","scale":{"domain":[0,3500],"nice":false,"zero":false},"axis":{"orient":"top","values":[0,500,1000,1500,2000,2500,3000,3500],"labels":false,"tickSize":10,"offset":-10,"title":null}},
  "y":{"field":"v","type":"quantitative","scale":{"domain":[0,1.2],"nice":false,"zero":false},"axis":{"orient":"right","values":[0,0.2,0.4,0.6,0.8,1.0,1.2],"labels":false,"tickSize":10,"offset":-10,"title":null}}}},
{"data":{"name":"obs"},"transform":[{"filter":"datum.d >= 1750"}],
 "mark":{"type":"point","shape":"M-1,0H1M0,-1V1","filled":false,"size":64,"strokeWidth":1,"color":"#000000","opacity":1},
 "encoding":{
  "x":{"field":"d","type":"quantitative","scale":{"domain":[0,3500],"nice":false,"zero":false},"axis":{"orient":"top","values":[0,100,200,300,400,500,600,700,800,900,1000,1100,1200,1300,1400,1500,1600,1700,1800,1900,2000,2100,2200,2300,2400,2500,2600,2700,2800,2900,3000,3100,3200,3300,3400,3500],"labels":false,"tickSize":5,"offset":-5,"title":null}},
  "y":{"field":"v","type":"quantitative","scale":{"domain":[0,1.2],"nice":false,"zero":false},"axis":{"orient":"right","values":[0,0.05,0.1,0.15,0.2,0.25,0.3,0.35,0.4,0.45,0.5,0.55,0.6,0.65,0.7,0.75,0.8,0.85,0.9,0.95,1.0,1.05,1.1,1.15,1.2],"labels":false,"tickSize":5,"offset":-5,"title":null}}}},
{"data":{"values":[{}]},
 "mark":{"type":"rect","fill":"white","stroke":null},
 "encoding":{"x":{"datum":1260,"type":"quantitative","axis":null},"x2":{"datum":2780},"y":{"datum":0.315,"type":"quantitative","axis":null},"y2":{"datum":0.838}}},
{"data":{"values":[{}]},
 "mark":{"type":"text","text":"0.24","font":"Liberation Sans","fontWeight":"bold","fontSize":56,"color":"#00cc00","align":"center","baseline":"alphabetic"},
 "encoding":{"x":{"datum":1900,"type":"quantitative","axis":null},"y":{"datum":0.604,"type":"quantitative","axis":null}}},
{"data":{"values":[{}]},
 "mark":{"type":"text","text":"/","font":"Liberation Sans","fontWeight":"bold","fontSize":56,"color":"#000000","align":"center","baseline":"alphabetic"},
 "encoding":{"x":{"datum":2434,"type":"quantitative","axis":null},"y":{"datum":0.604,"type":"quantitative","axis":null}}},
{"data":{"values":[{}]},
 "mark":{"type":"text","text":"0.17","font":"Liberation Sans","fontWeight":"bold","fontSize":56,"color":"#ff0000","align":"center","baseline":"alphabetic"},
 "encoding":{"x":{"datum":1997,"type":"quantitative","axis":null},"y":{"datum":0.388,"type":"quantitative","axis":null}}},
{"data":{"values":[{}]},
 "mark":{"type":"text","text":"fAPAR","font":"Liberation Sans","fontSize":16,"color":"#222","align":"center","baseline":"alphabetic"},
 "encoding":{"x":{"datum":1760,"type":"quantitative","axis":null},"y":{"datum":1.227,"type":"quantitative","axis":null}}},
{"data":{"values":[{}]},
 "mark":{"type":"text","text":"RMSE= 0.239","font":"Liberation Sans","fontSize":13.5,"color":"#00ff00","align":"left","baseline":"alphabetic"},
 "encoding":{"x":{"datum":2876,"type":"quantitative","axis":null},"y":{"datum":1.156,"type":"quantitative","axis":null}}},
{"data":{"values":[{}]},
 "mark":{"type":"text","text":"RMSE= 0.171","font":"Liberation Sans","fontSize":13.5,"color":"#ff0000","align":"left","baseline":"alphabetic"},
 "encoding":{"x":{"datum":2876,"type":"quantitative","axis":null},"y":{"datum":1.102,"type":"quantitative","axis":null}}},
{"data":{"values":[{}]},
 "mark":{"type":"text","text":"03388","font":"Liberation Sans","fontSize":17,"color":"#222","align":"center","baseline":"alphabetic"},
 "encoding":{"x":{"datum":393,"type":"quantitative","axis":null},"y":{"datum":1.285,"type":"quantitative","axis":null}}},
{"data":{"values":[{}]},
 "mark":{"type":"rect","fill":"white","stroke":"#000","strokeWidth":1},
 "encoding":{"x":{"datum":48,"type":"quantitative","axis":null},"x2":{"datum":717},"y":{"datum":1.169,"type":"quantitative","axis":null},"y2":{"datum":1.027}}},
{"data":{"values":[{}]},
 "mark":{"type":"rule","color":"#000","strokeWidth":1},
 "encoding":{"x":{"datum":117,"type":"quantitative","axis":null},"x2":{"datum":483},"y":{"datum":1.138,"type":"quantitative","axis":null}}},
{"data":{"values":[{}]},
 "mark":{"type":"rule","color":"#00ff00","strokeWidth":1.5},
 "encoding":{"x":{"datum":117,"type":"quantitative","axis":null},"x2":{"datum":483},"y":{"datum":1.096,"type":"quantitative","axis":null}}},
{"data":{"values":[{}]},
 "mark":{"type":"rule","color":"#ff0000","strokeWidth":2},
 "encoding":{"x":{"datum":117,"type":"quantitative","axis":null},"x2":{"datum":483},"y":{"datum":1.054,"type":"quantitative","axis":null}}},
{"data":{"values":[{}]},
 "mark":{"type":"point","shape":"M-1,0H1M0,-1V1","filled":false,"size":64,"strokeWidth":1,"color":"#000","opacity":1},
 "encoding":{"x":{"datum":300,"type":"quantitative","axis":null},"y":{"datum":1.138,"type":"quantitative","axis":null}}},
{"data":{"values":[{}]},
 "mark":{"type":"point","shape":"M-1,0H1M0,-1V1M-0.7,-0.7L0.7,0.7M-0.7,0.7L0.7,-0.7","filled":false,"size":50,"strokeWidth":1,"color":"#00ff00","opacity":1},
 "encoding":{"x":{"datum":300,"type":"quantitative","axis":null},"y":{"datum":1.096,"type":"quantitative","axis":null}}},
{"data":{"values":[{}]},
 "mark":{"type":"point","shape":"diamond","filled":false,"size":44,"strokeWidth":1,"color":"#ff0000","opacity":1},
 "encoding":{"x":{"datum":300,"type":"quantitative","axis":null},"y":{"datum":1.054,"type":"quantitative","axis":null}}},
{"data":{"values":[{}]},
 "mark":{"type":"text","text":"obs","font":"Liberation Sans","fontSize":11,"color":"#222","align":"left","baseline":"middle"},
 "encoding":{"x":{"datum":524,"type":"quantitative","axis":null},"y":{"datum":1.138,"type":"quantitative","axis":null}}},
{"data":{"values":[{}]},
 "mark":{"type":"text","text":"prior","font":"Liberation Sans","fontSize":11,"color":"#222","align":"left","baseline":"middle"},
 "encoding":{"x":{"datum":524,"type":"quantitative","axis":null},"y":{"datum":1.096,"type":"quantitative","axis":null}}},
{"data":{"values":[{}]},
 "mark":{"type":"text","text":"post","font":"Liberation Sans","fontSize":11,"color":"#222","align":"left","baseline":"middle"},
 "encoding":{"x":{"datum":524,"type":"quantitative","axis":null},"y":{"datum":1.054,"type":"quantitative","axis":null}}}
]
}
